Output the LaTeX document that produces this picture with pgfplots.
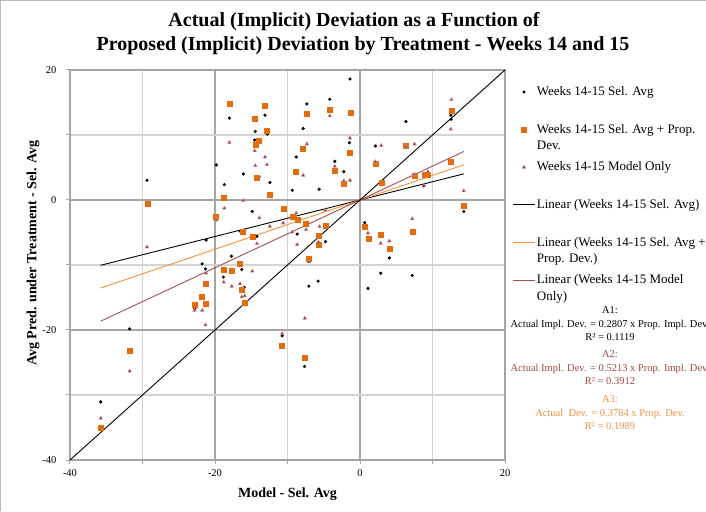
\documentclass[border=0pt]{standalone}
\usepackage{fontspec}
\setmainfont{Liberation Serif}
\usepackage{pgfplots}
\pgfplotsset{compat=1.18}
\usetikzlibrary{calc}
\definecolor{gridD}{RGB}{165,165,165}
\definecolor{gridL}{RGB}{212,212,212}
\definecolor{orgM}{RGB}{228,108,10}
\definecolor{orgL}{RGB}{245,145,55}
\definecolor{redM}{RGB}{150,55,53}
\definecolor{redB}{RGB}{210,150,150}
\definecolor{redL}{RGB}{165,80,78}
\definecolor{redT}{RGB}{160,72,68}
\definecolor{orgT}{RGB}{235,145,70}
\pgfplotsset{
 legline/.style={legend image code/.code={\draw[##1] (0pt,0pt) -- (22pt,0pt);}},
 legmark/.style={legend image code/.code={\path (0pt,0pt) (22pt,0pt); \draw[##1] plot[only marks] coordinates {(10.5pt,0pt)};}},
}
\newcommand{\legtxt}[1]{\raisebox{-4.5pt}[0pt][0pt]{\begin{tabular}[t]{@{}l@{}}#1\end{tabular}}}
\begin{document}
\begin{tikzpicture}[x=1pt,y=1pt]
\begin{axis}[name=ax, scale only axis, width=435pt, height=390pt,
 xmin=-40, xmax=20, ymin=-40, ymax=20,
 xtick={-40,-20,0,20}, ytick={-40,-20,0,20},
 minor xtick={-30,-10,10}, minor ytick={-30,-10,10},
 grid=both, major grid style={draw=gridD, line width=1.2pt}, minor grid style={draw=gridL, line width=1.2pt},
 tick pos=left, tick align=outside, major tick length=4pt, minor tick length=4pt,
 every tick/.style={draw=gridD, line width=1pt},
 axis line style={draw=gridD, line width=1.2pt},
 tick label style={font=\fontsize{10.5}{12}\selectfont},
 /pgf/number format/assume math mode=true,
 yticklabel style={xshift=-6pt}, xticklabel style={yshift=-2pt},
 legend style={at={(1,1)}, anchor=north west, xshift=8pt, yshift=-20.6pt, draw=none, fill=none,
   inner sep=0pt, outer sep=0pt, row sep={37.6pt,between origins}, column sep=1pt,
   font=\fontsize{13}{16.5}\selectfont, nodes={inner sep=0pt}},
 legend cell align=left,
]
\addplot[only marks, mark=*, mark size=1.4pt, black, legmark] coordinates {
(-18.02,12.59) (-13.11,13.05) (-14.44,10.54) (-12.79,10.14) (-14.53,9.22) (-19.81,5.39) (-16.09,4.01) (-13.93,3.55) (-18.71,2.37) (-12.42,2.68) (-14.86,-1.76) (-21.22,-6.16) (-16.51,-4.82) (-14.21,-5.59) (-17.74,-8.65) (-21.77,-9.83) (-21.32,-10.60) (-16.31,-10.69) (-18.84,-11.87) (-15.96,-13.45) (-22.78,-16.72) (-1.38,18.61) (-7.33,14.78) (-4.17,15.50) (-7.84,11.00) (-1.46,8.81) (2.12,8.30) (-8.80,6.62) (-3.48,5.94) (-2.24,4.36) (-9.35,1.50) (-5.64,1.65) (0.65,-3.49) (-8.67,-5.24) (-4.76,-6.40) (-7.06,-13.25) (-5.78,-12.48) (1.10,-13.60) (6.33,12.07) (12.52,13.05) (12.57,12.43) (8.80,2.17) (14.31,-1.76) (4.04,-8.91) (2.85,-11.26) (7.21,-11.61) (-29.38,3.03) (-31.77,-19.83) (-35.76,-31.06) (-10.73,-20.90) (-7.65,-25.60)
};
\addlegendentry{\legtxt{Weeks 14-15 Sel. Avg}}
\addplot[only marks, mark=square*, mark size=2.5pt, draw=orgM, fill=orgM, legmark] coordinates {
(-17.92,14.82) (-13.11,14.52) (-14.48,12.53) (-12.83,10.69) (-13.93,9.16) (-14.35,8.55) (-14.21,3.49) (-12.42,0.89) (-18.75,0.28) (-10.50,-1.35) (-19.85,-2.63) (-16.18,-4.87) (-14.76,-5.70) (-16.59,-9.83) (-18.75,-10.75) (-17.65,-10.95) (-21.27,-12.94) (-16.27,-13.81) (-21.77,-14.89) (-22.78,-16.16) (-21.27,-15.96) (-15.90,-15.80) (-7.33,13.29) (-4.21,13.91) (-1.28,13.45) (-7.88,7.93) (-1.46,7.32) (2.12,5.64) (-8.84,4.41) (-3.48,4.56) (-2.24,2.57) (-9.26,-2.63) (-8.57,-3.03) (-7.47,-3.71) (-4.76,-4.01) (-5.72,-5.54) (-5.72,-6.92) (-7.10,-8.96) (0.65,-4.17) (1.16,-5.90) (6.29,8.39) (12.61,13.71) (7.48,3.75) (8.90,3.91) (9.35,3.86) (12.48,5.94) (2.98,2.73) (14.26,-0.84) (2.85,-5.39) (7.21,-4.93) (4.09,-7.43) (-29.34,-0.64) (-31.82,-23.15) (-35.80,-34.99) (-10.77,-22.43) (-7.65,-24.23)
};
\addlegendentry{\legtxt{Weeks 14-15 Sel. Avg + Prop.\\Dev.}}
\addplot[only marks, mark=triangle*, mark size=2.1pt, draw=redB, fill=redM, line width=0.4pt, legmark] coordinates {
(-18.02,8.85) (-14.53,7.58) (-13.11,6.62) (-14.44,5.28) (-12.83,5.44) (-16.09,-0.08) (-18.71,-1.26) (-19.85,-3.09) (-13.89,-2.73) (-12.42,-4.06) (-10.59,-3.55) (-14.21,-6.71) (-14.86,-10.95) (-21.22,-11.26) (-18.79,-12.63) (-17.69,-13.29) (-16.55,-12.89) (-16.31,-14.89) (-15.90,-14.73) (-22.83,-16.97) (-21.77,-16.97) (-21.32,-19.22) (-4.17,12.94) (-7.33,8.61) (-1.38,9.53) (2.12,5.90) (-3.48,5.18) (-7.84,3.80) (-2.24,2.94) (-1.38,3.03) (-8.80,-2.02) (-4.81,-1.56) (-9.35,-4.93) (-7.43,-4.56) (-5.58,-4.10) (-5.72,-6.46) (-8.67,-6.86) (-7.06,-9.53) (1.10,-5.08) (-7.61,-18.19) (2.94,8.39) (6.33,8.19) (7.52,8.61) (12.61,15.44) (12.52,10.90) (7.52,3.91) (9.35,4.36) (8.80,2.27) (14.31,1.41) (7.21,-2.88) (4.04,-6.31) (2.85,-6.66) (-29.38,-7.23) (-31.77,-26.31) (-35.76,-33.57) (-10.73,-20.55)
};
\addlegendentry{\legtxt{Weeks 14-15 Model Only}}
\addplot[black, line width=0.9pt, legline] coordinates {(-35.8,-10.05) (14.31,4.02)};
\addlegendentry{\legtxt{Linear (Weeks 14-15 Sel. Avg)}}
\addplot[orgL, line width=0.9pt, legline] coordinates {(-35.8,-13.55) (14.31,5.41)};
\addlegendentry{\legtxt{Linear (Weeks 14-15 Sel. Avg +\\Prop. Dev.)}}
\addplot[redL, line width=0.9pt, legline] coordinates {(-35.8,-18.66) (14.31,7.46)};
\addlegendentry{\legtxt{Linear (Weeks 14-15 Model\\Only)}}
\addplot[black, line width=0.9pt, forget plot] coordinates {(-40,-40) (20,20)};
\coordinate (ll) at (rel axis cs:0,0);
\end{axis}
\pgfresetboundingbox
\begin{scope}[shift={($(ll)+(-70,-51)$)}]
\path[use as bounding box] (0,0) rectangle (706,511);
\draw[gray!55, line width=1pt] (1,0) -- (1,510) -- (706,510);
\node[font=\fontsize{20}{24}\selectfont\bfseries] at (354,489) {Actual (Implicit) Deviation as a Function of};
\node[font=\fontsize{20}{24}\selectfont\bfseries] at (363,465) {Proposed (Implicit) Deviation by Treatment - Weeks 14 and 15};
\node[font=\fontsize{14}{16}\selectfont\bfseries, rotate=90] at (33,258) {Avg Pred. under Treatment - Sel. Avg};
\node[font=\fontsize{14}{16}\selectfont\bfseries] at (287.5,17) {Model - Sel. Avg};
\node[align=center, font=\fontsize{10.5}{13.5}\selectfont] at (610,187) {A1:\\Actual Impl. Dev. = 0.2807 x Prop. Impl. Dev.\\R² = 0.1119};
\node[align=center, font=\fontsize{10.5}{13.5}\selectfont, text=redT] at (610,143) {A2:\\Actual Impl. Dev. = 0.5213 x Prop. Impl. Dev.\\R² = 0.3912};
\node[align=center, font=\fontsize{10.5}{13.5}\selectfont, text=orgT] at (610,98) {A3:\\Actual\ \ Dev. = 0.3784 x Prop. Dev.\\R² = 0.1989};
\end{scope}
\end{tikzpicture}
\end{document}
